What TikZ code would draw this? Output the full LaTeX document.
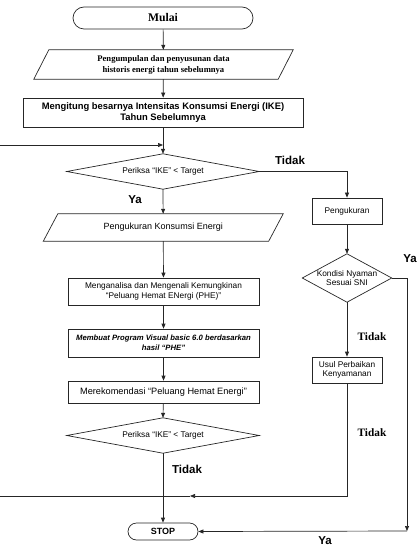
\documentclass[tikz,border=0pt]{standalone}
\usepackage{fontspec}
\setmainfont{Liberation Serif}
\setsansfont{Liberation Sans}
\usetikzlibrary{arrows.meta}
\begin{document}
\begin{tikzpicture}[x=1pt,y=-1pt,
  ln/.style={draw=black!85, line width=0.7pt},
  arr/.style={ln, -{Triangle[length=5pt,width=4pt]}},
  box/.style={ln, inner sep=0pt, align=center, font=\sffamily\fontsize{8.3}{9.6}\selectfont},
  ghost/.style={inner sep=0pt, align=center, font=\sffamily\fontsize{8.3}{9.6}\selectfont},
  lbl/.style={inner sep=0pt, font=\sffamily\bfseries\fontsize{11.5}{12}\selectfont},
  lbls/.style={inner sep=0pt, font=\rmfamily\bfseries\fontsize{11.3}{12}\selectfont}
]
\useasboundingbox (0,0) rectangle (418,553);

% left column
\node[box, rounded corners=11pt, minimum width=180pt, minimum height=22pt,
  font=\rmfamily\bfseries\fontsize{11.7}{13}\selectfont] (mulai) at (163,18) {Mulai};
\node[ghost, minimum width=244pt, minimum height=29pt,
  font=\rmfamily\bfseries\fontsize{8.6}{11}\selectfont] (p1) at (163.5,64.5)
  {Pengumpulan dan penyusunan data\\historis energi tahun sebelumnya};
\draw[ln] ([xshift=7.5pt]p1.north west) -- ([xshift=7.5pt]p1.north east)
  -- ([xshift=-7.5pt]p1.south east) -- ([xshift=-7.5pt]p1.south west) -- cycle;
\node[box, minimum width=280pt, minimum height=29pt,
  font=\sffamily\bfseries\fontsize{9.4}{11}\selectfont] (ike) at (163,112.5)
  {Mengitung besarnya Intensitas Konsumsi Energi (IKE)\\Tahun Sebelumnya};
\node[ghost, minimum width=192pt, minimum height=35pt] (d1) at (163,171.5) {Periksa “IKE” < Target};
\draw[ln] (d1.north) -- (d1.east) -- (d1.south) -- (d1.west) -- cycle;
\node[ghost, minimum width=225pt, minimum height=27pt,
  font=\sffamily\fontsize{9}{10}\selectfont] (p2) at (163.25,227.5) {Pengukuran Konsumsi Energi};
\draw[ln] ([xshift=7.25pt]p2.north west) -- ([xshift=7.25pt]p2.north east)
  -- ([xshift=-7.25pt]p2.south east) -- ([xshift=-7.25pt]p2.south west) -- cycle;
\node[box, minimum width=191pt, minimum height=27pt] (ana) at (163.5,291.5)
  {Menganalisa dan Mengenali Kemungkinan\\“Peluang Hemat ENergi (PHE)”};
\node[box, minimum width=191pt, minimum height=28pt,
  font=\sffamily\bfseries\itshape\fontsize{7.7}{9.6}\selectfont] (mem) at (163.5,343)
  {Membuat Program Visual basic 6.0 berdasarkan\\hasil “PHE”};
\node[box, minimum width=191pt, minimum height=22pt,
  font=\sffamily\fontsize{9.2}{10}\selectfont] (rek) at (163.5,392)
  {Merekomendasi “Peluang Hemat Energi”};
\node[ghost, minimum width=192pt, minimum height=35pt] (d2) at (163,435.5) {Periksa “IKE” < Target};
\draw[ln] (d2.north) -- (d2.east) -- (d2.south) -- (d2.west) -- cycle;
\node[box, rounded corners=8.5pt, minimum width=70pt, minimum height=17pt,
  font=\sffamily\bfseries\fontsize{9}{10}\selectfont] (stop) at (163,531.5) {STOP};

% right column
\node[box, minimum width=70pt, minimum height=26pt] (peng) at (347,211) {Pengukuran};
\node[ghost, minimum width=89pt, minimum height=48pt] (kon) at (347,278) {Kondisi Nyaman\\Sesuai SNI};
\draw[ln] (kon.north) -- (kon.east) -- (kon.south) -- (kon.west) -- cycle;
\node[box, minimum width=70pt, minimum height=26pt] (usul) at (347,370) {Usul Perbaikan\\Kenyamanan};

% helper points
\coordinate (fb0) at (0,145);
\coordinate (fb1) at (163,145);
\coordinate (c1) at (407,531);
\coordinate (m1) at (190,496);
\coordinate (c0) at (0,496);

% connectors
\draw[arr] (mulai) -- (p1);
\draw[arr] (p1) -- (ike);
\draw[arr] (ike) -- (d1.north);
\draw[arr] (fb0) -- (fb1);
\draw[arr] (d1.south) -- (p2);
\draw[arr] (d1.east) -| (peng.north);
\draw[arr] (p2) -- (ana);
\draw[arr] (ana) -- (mem);
\draw[arr] (mem) -- (rek);
\draw[arr] (rek) -- (d2.north);
\draw[arr] (d2.south) -- (stop);
\draw[arr] (peng) -- (kon.north);
\draw[arr] (kon.south) -- (usul);
\draw[arr] (kon.east) -| (c1);
\draw[arr] (c1) -- (stop.east);
\draw[arr] (usul.south) |- (m1);
\draw[ln] (m1) -- (c0);

% labels
\node[lbl] (t1) at (290,160) {Tidak};
\node[lbl] (y1) at (135,200) {Ya};
\node[lbl] (y2) at (410,259) {Ya};
\node[lbls] (t2) at (372,337) {Tidak};
\node[lbls] (t3) at (372,433) {Tidak};
\node[lbl] (t4) at (187,469) {Tidak};
\node[lbl] (y3) at (325,541) {Ya};
\end{tikzpicture}
\end{document}
